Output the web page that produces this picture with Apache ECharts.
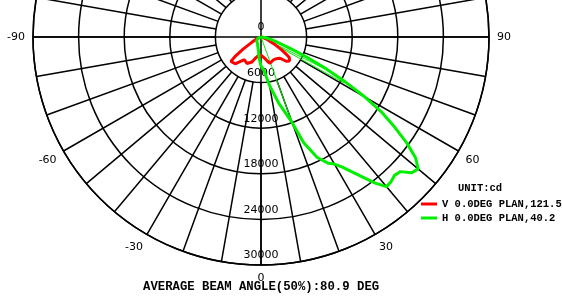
<!DOCTYPE html>
<html>
<head>
<meta charset="utf-8">
<script src="https://cdn.jsdelivr.net/npm/echarts@6/dist/echarts.min.js"></script>
<style>
  html, body { margin: 0; padding: 0; background: #fff; }
  #chart { width: 562px; height: 298px; }
</style>
</head>
<body>
<div id="chart"></div>
<script>
// gamma angles (deg, 0 = straight down) and intensity in cd
const vAngles = [-90, -75, -65, -60, -56, -53, -51, -48, -44, -40, -36, -32, -28, -24, -20, -15, -10, -5, 0,
  5, 10, 15, 19, 23, 28, 33, 38, 42, 46, 50, 52, 54, 56, 58, 62, 70, 80, 90];
const vValues = [0, 200, 700, 1400, 2800, 4300, 5100, 5000, 4900, 4200, 3700, 3800, 3950, 4050, 3500, 2900, 2550, 2350, 2380,
  2550, 2850, 3300, 3650, 3500, 3430, 3450, 3600, 3760, 4600, 4900, 5000, 4600, 3900, 3200, 2000, 700, 200, 0];

const hAngles = [-90, -80, -70, -60, -50, -40, -30, -20, -10, -5, 0, 5, 10, 15, 20, 22, 25, 28, 30, 32, 34, 36, 38,
  40, 42, 44, 46, 48, 50, 52, 54, 56, 58, 60, 62, 64, 66, 68, 70, 75, 80, 85, 90];
const hValues = [0, 150, 400, 650, 750, 850, 950, 1150, 1900, 2800, 3800, 4400, 6500, 9000, 12000, 15000, 17500, 18800, 19300, 20200, 21400, 22800, 24400,
  25700, 25600, 25300, 25500, 26700, 27000, 25800, 23700, 21200, 18800, 15800, 12500, 9500, 6800, 4700, 3200, 1600, 800, 300, 0];

// thin green strokes from the centre: [angle, cd]
const hThin = [[20, 11800], [61, 12500], [63.5, 10000]];

const radialMax = 30000;
const radialStep = 6000;
const angleLabelStep = 30;

const vName = 'V 0.0DEG PLAN,121.5';
const hName = 'H 0.0DEG PLAN,40.2';
const unitText = 'UNIT:cd';
const beamText = 'AVERAGE BEAM ANGLE(50%):80.9 DEG';

// 0 sits at the bottom, angles run 0..360 counter-clockwise
function toAxis(a) { return (a + 360) % 360; }
function pairs(angles, values) {
  return angles.map((a, i) => [values[i], toAxis(a)]);
}

const lineCol = '#000';
const mono = 'Liberation Mono';
const green = '#00ee00';
const red = '#ff0000';

const chart = echarts.init(document.getElementById('chart'));

const thinSeries = hThin.map(t => ({
  type: 'line',
  coordinateSystem: 'polar',
  polarIndex: 0,
  showSymbol: false,
  silent: true,
  lineStyle: { color: green, width: 1 },
  data: [[0, toAxis(t[0])], [t[1], toAxis(t[0])]],
  z: 3
}));

chart.setOption({
  animation: false,
  backgroundColor: '#fff',
  title: [
    { text: unitText, left: 453, top: 178,
      textStyle: { fontFamily: mono, fontWeight: 'bold', fontSize: 10.5, color: '#000' } },
    { text: beamText, left: 138, top: 276,
      textStyle: { fontFamily: mono, fontWeight: 'bold', fontSize: 12.3, color: '#000' } }
  ],
  legend: {
    orient: 'vertical',
    left: 416,
    top: 193,
    icon: 'rect',
    itemWidth: 16,
    itemHeight: 3,
    itemGap: 2,
    data: [vName, hName],
    textStyle: { fontFamily: mono, fontWeight: 'bold', fontSize: 10.5, color: '#000', lineHeight: 12 }
  },
  polar: [
    { center: [261, 37], radius: [0, 228] },
    { center: [261, 37], radius: [45.6, 228] }
  ],
  angleAxis: [
    {
      polarIndex: 0, type: 'value', min: 0, max: 360, interval: 90,
      startAngle: 270, clockwise: false,
      axisLine: { show: true, lineStyle: { color: lineCol, width: 1.5 } },
      axisTick: { show: false },
      axisLabel: { show: false },
      splitLine: { show: true, lineStyle: { color: lineCol, width: 1.5 } }
    },
    {
      polarIndex: 1, type: 'value', min: 0, max: 360, interval: 10,
      startAngle: 270, clockwise: false,
      axisLine: { show: false },
      axisTick: { show: false },
      axisLabel: {
        show: true, margin: 8, fontFamily: 'DejaVu Sans', fontSize: 11, color: '#000',
        formatter: v => (v % angleLabelStep !== 0 || v === 360) ? '' : String(v > 180 ? v - 360 : v)
      },
      splitLine: { show: true, lineStyle: { color: lineCol, width: 1.5 } }
    }
  ],
  radiusAxis: [
    {
      polarIndex: 0, type: 'value', min: 0, max: radialMax, interval: radialStep,
      axisLine: { show: false },
      axisTick: { show: false },
      axisLabel: {
        show: true, margin: 0, align: 'center', verticalAlign: 'bottom',
        padding: [0, 0, 4, 0],
        fontFamily: 'DejaVu Sans', fontSize: 11, color: '#000',
        formatter: v => String(v)
      },
      splitLine: { show: true, lineStyle: { color: lineCol, width: 1.5 } }
    },
    {
      polarIndex: 1, type: 'value', min: 0, max: radialMax, show: false,
      splitLine: { show: false }
    }
  ],
  series: [
    {
      name: vName, type: 'line', coordinateSystem: 'polar', polarIndex: 0,
      showSymbol: false, color: red,
      lineStyle: { color: red, width: 3 },
      data: pairs(vAngles, vValues), z: 4
    },
    {
      name: hName, type: 'line', coordinateSystem: 'polar', polarIndex: 0,
      showSymbol: false, color: green,
      lineStyle: { color: green, width: 3 },
      data: pairs(hAngles, hValues), z: 4
    }
  ].concat(thinSeries)
});
</script>
</body>
</html>
